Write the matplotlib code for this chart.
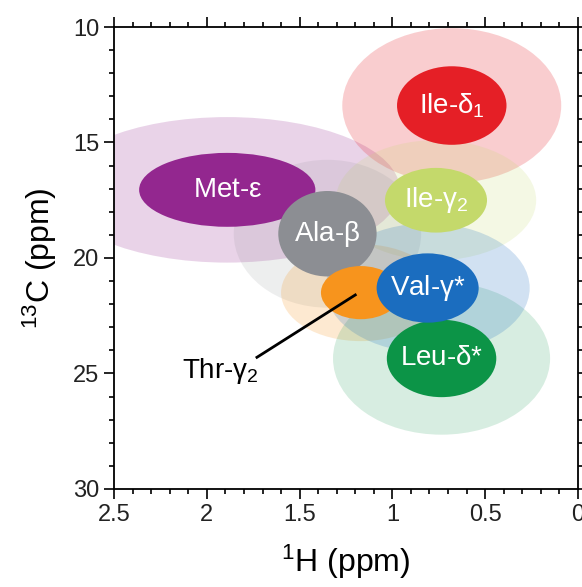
import matplotlib
matplotlib.use("Agg")
import matplotlib.pyplot as plt
from matplotlib.patches import Ellipse
from matplotlib.ticker import MultipleLocator

plt.rcParams['font.family'] = ['Liberation Sans', 'DejaVu Sans']
plt.rcParams['mathtext.fontset'] = 'custom'
plt.rcParams['mathtext.rm'] = 'Liberation Sans'
plt.rcParams['mathtext.it'] = 'Liberation Sans'

# methyl groups: centre (1H, 13C), core size and spread size in ppm
labels = ["Met-$\\epsilon$", "Ile-$\\delta_1$", "Ile-$\\gamma_2$", "Ala-$\\beta$",
          "Thr", "Leu-$\\delta$*", "Val-$\\gamma$*"]
h_centre = [1.89, 0.68, 0.765, 1.35, 1.17, 0.735, 0.81]
c_centre = [17.05, 13.4, 17.5, 18.95, 21.5, 24.35, 21.3]
core_w = [0.95, 0.59, 0.55, 0.53, 0.43, 0.59, 0.55]
core_h = [3.2, 3.4, 2.8, 3.7, 2.3, 3.35, 3.0]
spread_w = [1.86, 1.18, 1.08, 1.01, 0.86, 1.17, 1.10]
spread_h = [6.3, 6.7, 5.2, 6.4, 4.2, 6.6, 5.6]
colors = ["#93278f", "#e51f26", "#c4d96b", "#8c8e93", "#f7941d", "#0c9447", "#1b6dbf"]
spread_alpha = [0.2, 0.22, 0.18, 0.15, 0.2, 0.16, 0.2]

thr_label = "Thr-$\\gamma_2$"
thr_text_xy = (1.93, 24.9)
thr_line_x = [1.73, 1.20]
thr_line_y = [24.3, 21.6]

fig = plt.figure(figsize=(5.82, 5.87), dpi=100)
ax = fig.add_axes([0.196, 0.167, 0.797, 0.787])

# wide light ellipses first
for i in range(len(labels)):
    e = Ellipse((h_centre[i], c_centre[i]), spread_w[i], spread_h[i],
                facecolor=colors[i], alpha=spread_alpha[i], edgecolor='none', zorder=1)
    ax.add_patch(e)

# solid cores
for i in range(len(labels)):
    e = Ellipse((h_centre[i], c_centre[i]), core_w[i], core_h[i],
                facecolor=colors[i], edgecolor='none', zorder=2)
    ax.add_patch(e)
    if labels[i] != "Thr":
        ax.text(h_centre[i], c_centre[i], labels[i], color='white', fontsize=20,
                ha='center', va='center', zorder=3)

ax.plot(thr_line_x, thr_line_y, color='black', lw=2, zorder=4)
ax.text(thr_text_xy[0], thr_text_xy[1], thr_label, fontsize=20, ha='center', va='center', zorder=4)

ax.set_xlim(2.5, 0)
ax.set_ylim(30, 10)
ax.xaxis.set_minor_locator(MultipleLocator(0.1))
ax.yaxis.set_major_locator(MultipleLocator(5))
ax.yaxis.set_minor_locator(MultipleLocator(1))
ax.set_xticks([2.5, 2, 1.5, 1, 0.5, 0])
ax.set_xticklabels(["2.5", "2", "1.5", "1", "0.5", "0"])
ax.tick_params(which='both', direction='out', top=True, right=True, width=1.2,
               labelsize=17, labelcolor='#222222')
ax.tick_params(which='major', length=7)
ax.tick_params(which='minor', length=3.5)
for s in ax.spines.values():
    s.set_linewidth(1.3)

ax.set_xlabel("$^{1}$H (ppm)", fontsize=23, labelpad=12)
ax.set_ylabel("$^{13}$C (ppm)", fontsize=23, labelpad=10)

fig.savefig("out.png", dpi=100)
